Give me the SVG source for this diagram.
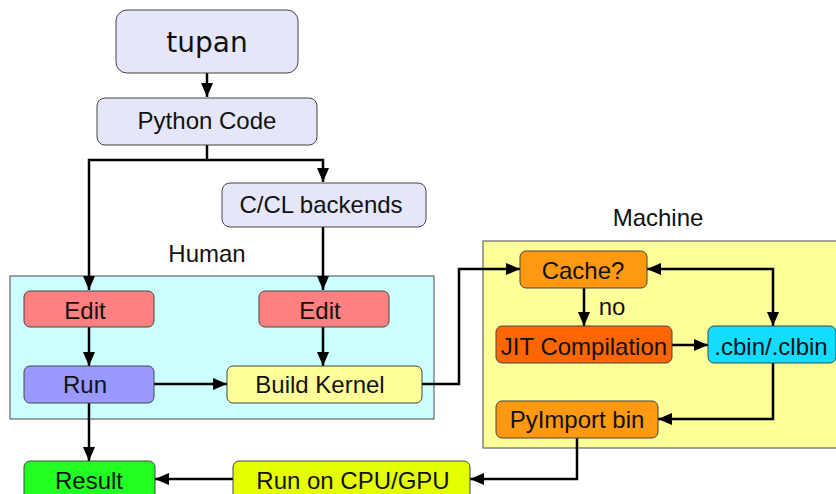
<svg xmlns="http://www.w3.org/2000/svg" width="836" height="494" viewBox="0 0 836 494">
<defs>
<marker id="ah" viewBox="0 0 14 12" refX="14" refY="6" markerWidth="14" markerHeight="12" markerUnits="userSpaceOnUse" orient="auto-start-reverse">
<path d="M0,0 L14,6 L0,12 Z" fill="#000"/>
</marker>
<style>
.box{stroke:#444;stroke-width:1}
.t{font-family:"Liberation Sans",Arial,sans-serif;font-size:24px;fill:#111;text-anchor:middle}
.c{fill:none;stroke:#000;stroke-width:2.5;marker-end:url(#ah)}
.grp{stroke:#666;stroke-width:1.2}
</style>
</defs>
<rect width="836" height="494" fill="#fff"/>
<g id="human-area">
<rect class="grp" x="10" y="276" width="424" height="143" fill="#ccffff"/>
<text class="t" x="207" y="262">Human</text>
</g>
<g id="machine-area">
<rect class="grp" x="483" y="241" width="360" height="207" fill="#ffff99"/>
<text class="t" x="658" y="226">Machine</text>
</g>
<g id="connectors">
<path class="c" d="M207,73 V97"/>
<path d="M207,145 V160" fill="none" stroke="#000" stroke-width="2.5"/>
<path class="c" d="M207,160 H89 V290"/>
<path class="c" d="M207,160 H323 V182"/>
<path class="c" d="M323,227 V290"/>
<path class="c" d="M89,327 V366"/>
<path class="c" d="M323,327 V366"/>
<path class="c" d="M154,384 H227"/>
<path class="c" d="M89,403 V461"/>
<path class="c" d="M422,384 H459 V269 H520"/>
<path class="c" d="M584,288 V326"/>
<path class="c" d="M672,345 H708"/>
<path class="c" d="M647,269 H773 V326" style="marker-start:url(#ah)"/>
<path class="c" d="M773,363 V419 H658"/>
<path class="c" d="M577,438 V479 H470"/>
<path class="c" d="M233,479 H155"/>
</g>
<g id="tupan">
<rect class="box" x="116" y="10" width="182" height="63" rx="11" fill="#e6e6fa"/>
<text x="207" y="52" style="font-family:'DejaVu Sans',sans-serif;font-size:28px;fill:#111;text-anchor:middle">tupan</text>
</g>
<g id="python-code">
<rect class="box" x="97" y="98" width="220" height="47" rx="8" fill="#e6e6fa"/>
<text class="t" x="207" y="129">Python Code</text>
</g>
<g id="cl-backends">
<rect class="box" x="222" y="183" width="204" height="44" rx="8" fill="#e6e6fa"/>
<text class="t" x="321" y="213">C/CL backends</text>
</g>
<g id="edit-left">
<rect class="box" x="24" y="291" width="130" height="36" rx="6" fill="#ff8080"/>
<text class="t" x="85" y="319">Edit</text>
</g>
<g id="edit-right">
<rect class="box" x="259" y="291" width="130" height="36" rx="6" fill="#ff8080"/>
<text class="t" x="320" y="319">Edit</text>
</g>
<g id="run">
<rect class="box" x="24" y="366" width="130" height="37" rx="6" fill="#9999ff"/>
<text class="t" x="85" y="393">Run</text>
</g>
<g id="build-kernel">
<rect class="box" x="227" y="366" width="195" height="37" rx="6" fill="#ffff99"/>
<text class="t" x="320" y="393">Build Kernel</text>
</g>
<g id="result">
<rect class="box" x="24" y="461" width="131" height="45" rx="6" fill="#22ff22"/>
<text class="t" x="89" y="489">Result</text>
</g>
<g id="run-cpu-gpu">
<rect class="box" x="233" y="461" width="237" height="45" rx="6" fill="#e6ff00"/>
<text class="t" x="353" y="489">Run on CPU/GPU</text>
</g>
<g id="cache">
<rect class="box" x="520" y="251" width="127" height="37" rx="6" fill="#ff9911"/>
<text class="t" x="583" y="279">Cache?</text>
</g>
<text class="t" x="612" y="315">no</text>
<g id="jit">
<rect class="box" x="496" y="326" width="176" height="37" rx="6" fill="#ff6600"/>
<text class="t" x="584" y="355">JIT Compilation</text>
</g>
<g id="cbin">
<rect class="box" x="708" y="326" width="128" height="37" rx="6" fill="#11ddff"/>
<text class="t" x="771" y="355">.cbin/.clbin</text>
</g>
<g id="pyimport">
<rect class="box" x="496" y="401" width="162" height="37" rx="6" fill="#ff9911"/>
<text class="t" x="577" y="428">PyImport bin</text>
</g>
</svg>
